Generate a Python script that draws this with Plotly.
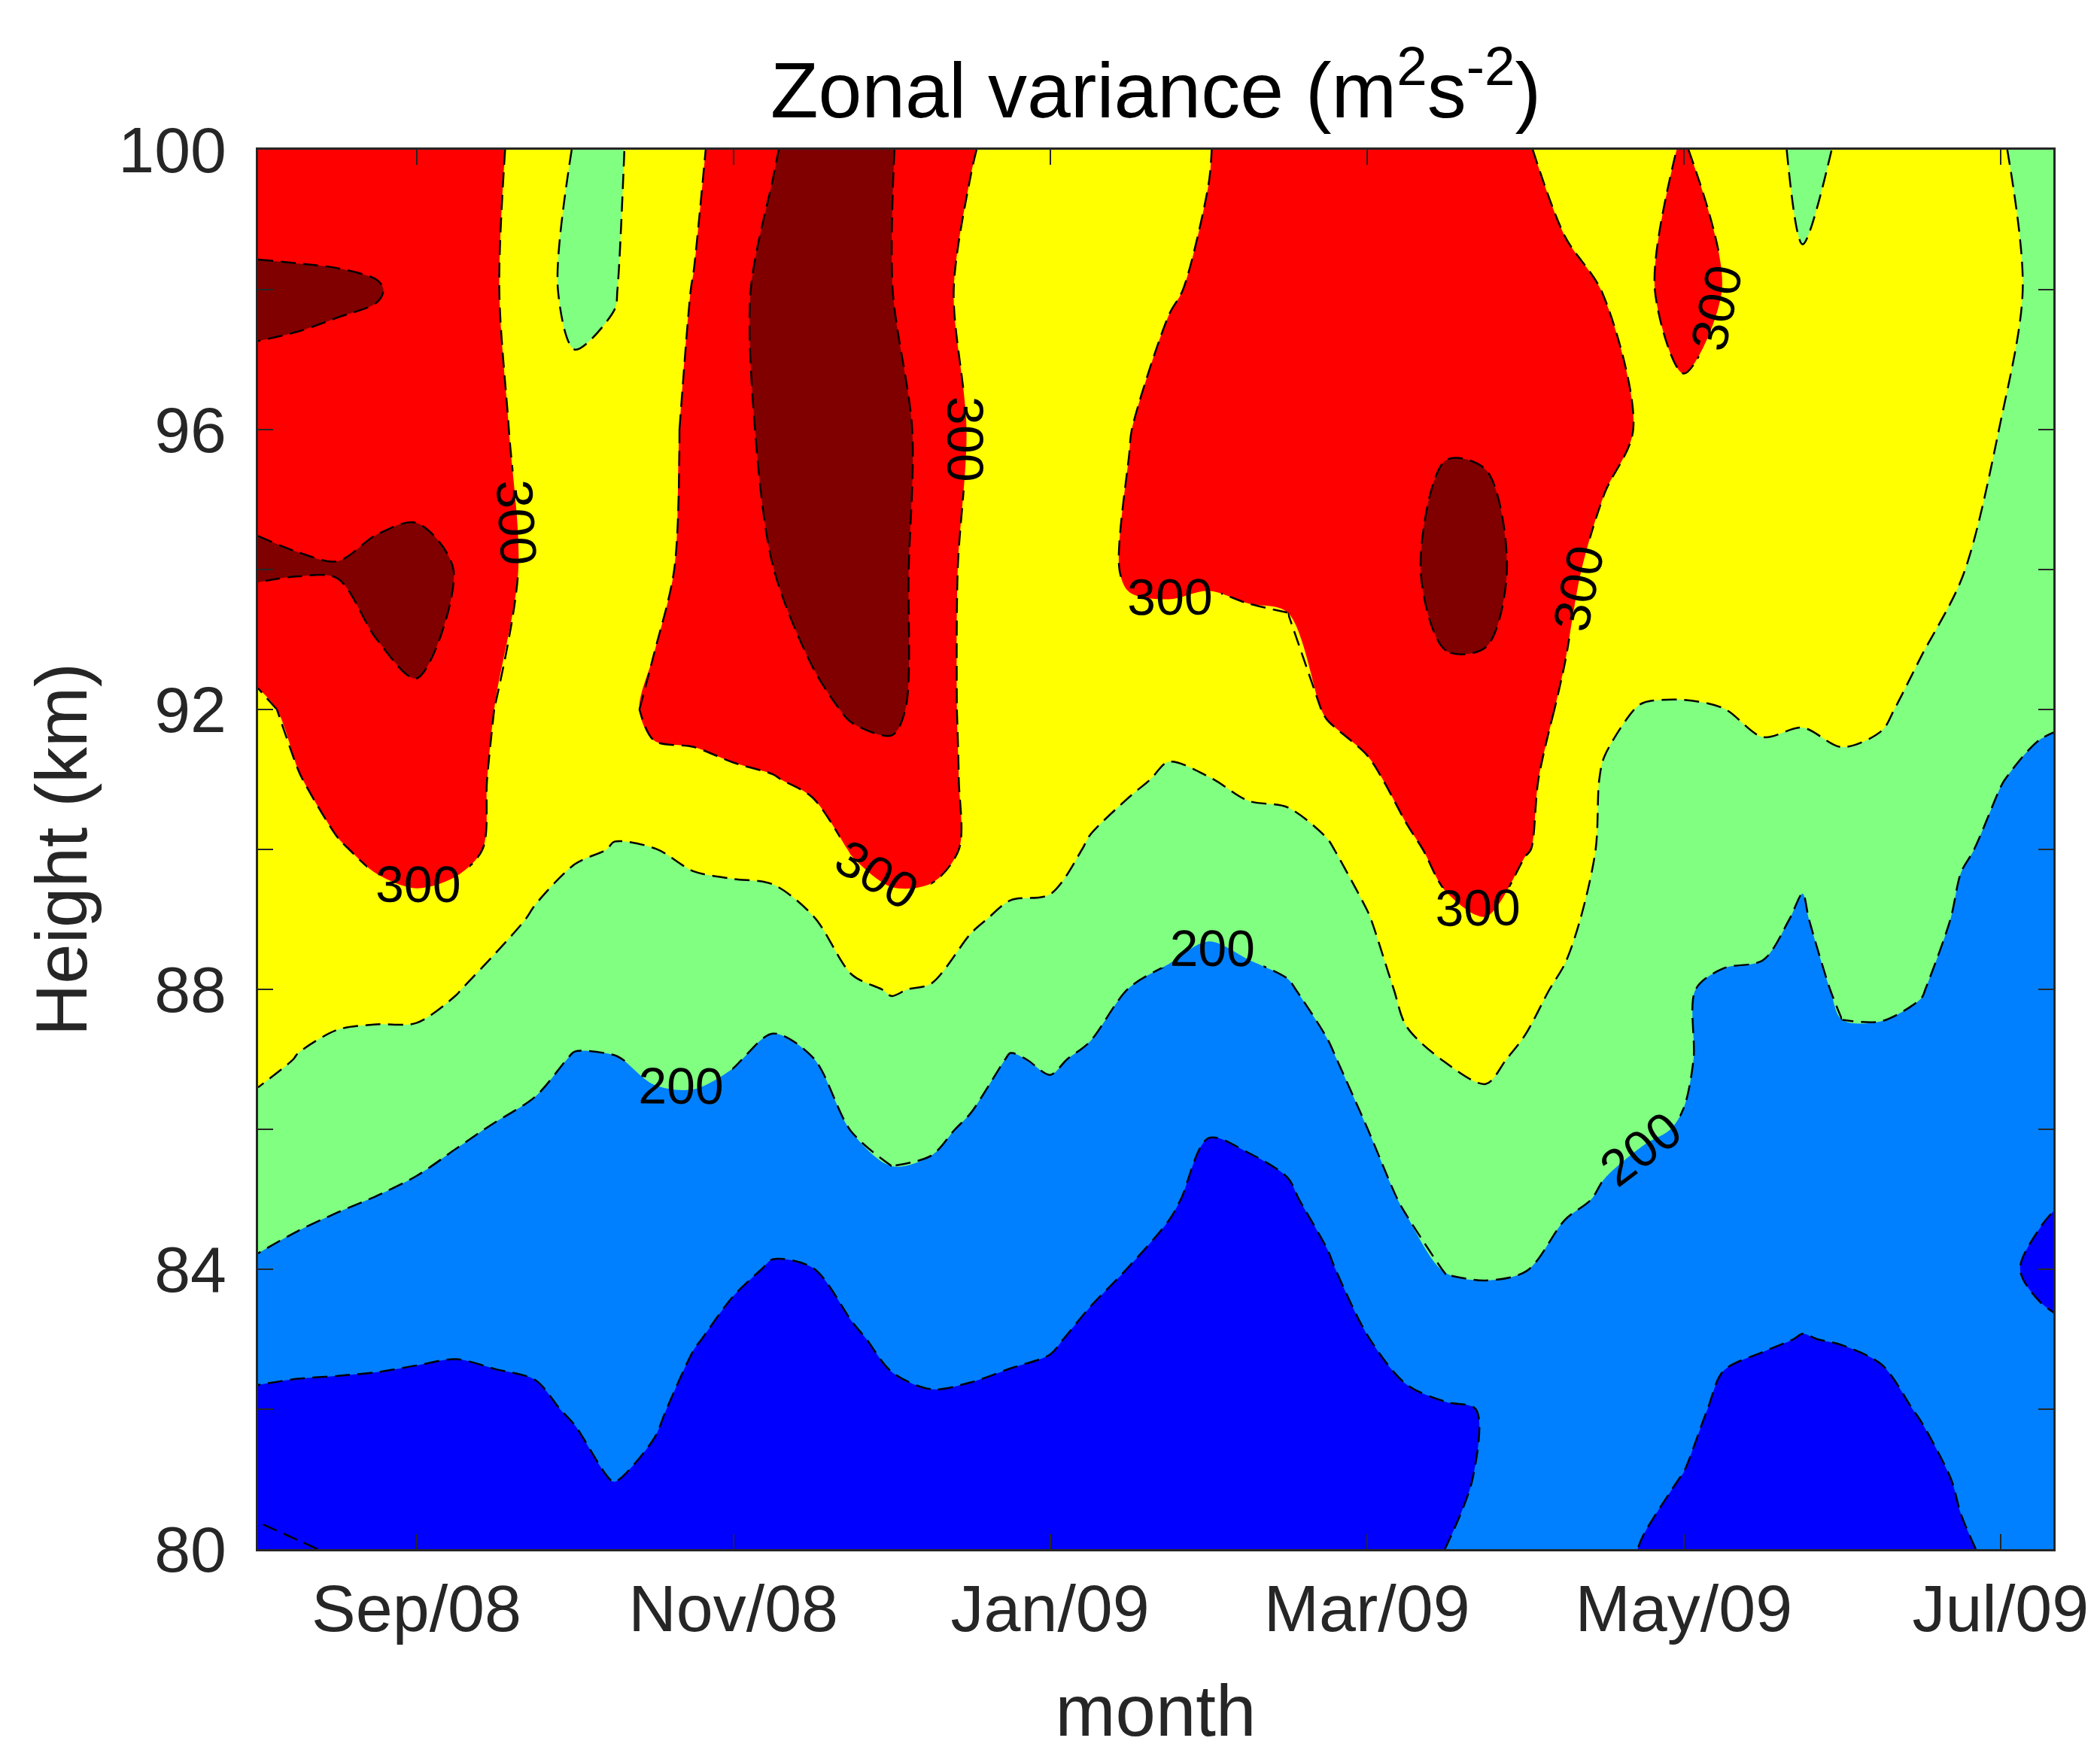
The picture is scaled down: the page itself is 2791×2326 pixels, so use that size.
import plotly.graph_objects as go

# x: month index (8 = Aug 2008 ... 19.33 = mid Jul 2009), y: height (km)
months = [8.0, 8.25, 8.5, 8.75, 9.0, 9.25, 9.5, 9.75, 10.0, 10.25, 10.5, 10.75,
          11.0, 11.25, 11.5, 11.75, 12.0, 12.25, 12.5, 12.75, 13.0, 13.25, 13.5, 13.75,
          14.0, 14.25, 14.5, 14.75, 15.0, 15.25, 15.5, 15.75, 16.0, 16.25, 16.5, 16.75,
          17.0, 17.25, 17.5, 17.75, 18.0, 18.25, 18.5, 18.75, 19.0, 19.25, 19.5]
heights = [80, 81, 82, 83, 84, 85, 86, 87, 88, 89, 90, 91, 92, 94, 96, 98, 100]

tick_months = [9, 11, 13, 15, 17, 19]
tick_labels = ['Sep/08', 'Nov/08', 'Jan/09', 'Mar/09', 'May/09', 'Jul/09']
height_ticks = [80, 84, 88, 92, 96, 100]
height_labels = ['80', '84', '88', '92', '96', '100']

# zonal variance (m^2 s^-2), one list per height, one value per month step
var_80km = [90, 97, 103, 110, 112, 113, 113, 115, 125, 136, 130, 112, 110, 110, 110, 112, 115, 118, 118, 118,
            118, 115, 112, 110, 108, 108, 108, 110, 112, 118, 151, 160, 165, 160, 160, 148, 136, 118, 118, 118,
            118, 118, 128, 147, 155, 165, 170]
var_81km = [116, 120, 122, 125, 126, 126, 127, 130, 140, 151, 143, 125, 121, 120, 120, 123, 128, 132, 132, 131,
            129, 125, 121.5, 118, 115, 115, 116, 119, 124, 131, 140, 155, 160, 160, 165, 157, 149, 131, 129, 128.5,
            128.7, 130, 141, 153, 159, 170, 172]
var_82km = [141, 140, 140, 141, 140, 140, 142, 145, 153, 158, 155, 139, 132, 129, 130, 135, 142, 146, 145, 143,
            141, 135, 131, 127, 122, 122, 123, 128, 137, 144, 147, 151, 156, 164, 170, 166, 159, 144, 141, 139,
            139.3, 143, 152, 158, 163, 175, 170]
var_83km = [167, 163, 161, 158, 156, 154, 156, 157, 162, 167, 164, 152, 142, 139, 140, 146, 157, 160, 158, 155,
            152.5, 145, 140.5, 135, 129, 130, 131, 137, 149, 161, 176, 179, 179, 175, 178, 175, 168, 155, 152, 149.4,
            151, 154, 160, 164, 167, 175, 158]
var_84km = [195, 188, 183, 179, 174, 170, 170, 169, 171, 175, 174, 165, 155, 148, 149.5, 162, 174, 175, 171, 166,
            165, 156, 149.5, 143, 136, 137, 138, 146, 165.5, 183, 202, 204, 201, 188, 189, 184, 178, 163, 160, 157,
            161, 164, 168, 169, 171.5, 128, 110]
var_85km = [217, 210, 204, 199, 193, 187, 184, 181, 180, 183, 183, 178, 170, 162, 166, 182, 191, 190, 183, 176,
            177, 169, 162.5, 153, 143, 144, 146, 160, 183, 205, 218, 221, 215.5, 205, 197.5, 193, 188, 172, 169, 165,
            172, 174, 176, 174.5, 176, 165, 140]
var_86km = [238, 229, 223, 219, 214, 205, 198, 193, 189, 192, 193, 192, 186, 177, 183, 201, 210, 206, 196, 187,
            189.5, 183, 175, 167, 151, 153, 159, 178, 199.5, 223, 234, 238, 230, 218, 206, 202, 199, 180, 178, 173,
            183, 184, 185, 180, 180, 175, 175]
var_87km = [258, 249, 242, 239, 237, 228, 217, 208, 198, 199, 204, 206, 202, 193, 199, 223, 231, 227, 213, 198,
            203, 196, 187.5, 181, 169, 172, 178, 195, 216, 242, 251, 256.5, 244, 230, 214, 209.5, 202.3, 193, 186.5, 181,
            193.5, 194, 193, 185, 184, 180, 180]
var_88km = [264, 261, 261, 261, 262, 252, 237, 227, 216, 216, 219, 222, 221, 212, 224, 244, 252, 247, 234, 220,
            223, 212, 199.5, 194, 187, 191, 197, 212, 231, 259, 272, 278, 261, 243, 222.5, 217.5, 204, 190.7, 195, 188.6,
            205, 205, 201, 191, 188, 185, 185]
var_89km = [271, 274, 279, 287, 292, 284, 262, 246, 235, 232, 234, 239, 239, 236, 248, 273, 288, 283, 254, 244,
            243, 230, 217, 210.5, 206, 212, 217, 229, 247, 276, 293.5, 299.5, 282, 262, 231, 225.4, 215, 221.7, 207, 196.5,
            218, 217, 211, 196, 192, 190, 190]
var_90km = [277, 286, 297, 307, 310, 310, 295, 265, 254, 249, 249.5, 255, 258, 264, 277, 303, 314, 316, 293, 266,
            262.5, 247, 235, 228, 227.5, 234, 238, 246, 269, 293, 310, 312.6, 302, 288, 239, 233.3, 226, 231, 224, 206,
            231, 229, 221, 202, 196, 194, 193]
var_91km = [284, 298, 314, 320, 323, 318, 295, 275, 263, 258, 275, 287, 293, 298, 308, 329, 333, 325, 289, 270,
            272, 262, 255, 245.6, 249, 257, 258, 272, 292, 312, 323, 325, 315, 269.5, 247, 241.3, 237, 240.4, 240, 230,
            244, 241.5, 232, 216, 200.5, 196, 196]
var_92km = [290, 311, 320, 340, 346, 325, 299, 282, 272, 266, 320, 315, 322, 325, 339, 355, 360, 331, 283, 275,
            278, 272, 274, 263, 272, 275, 273, 305, 315, 325, 337, 338, 325, 291, 256, 248, 248, 249.7, 256.5, 257,
            257, 253.7, 242, 228, 211, 203, 201]
var_94km = [356, 352, 352, 360, 364, 349, 312, 291, 276, 272, 270, 329, 335, 349.5, 375, 375, 365, 330, 285, 278,
            282, 285, 305, 310, 305, 308, 312, 325, 335, 340, 368, 365, 337, 318, 275, 288, 277, 275, 275, 275,
            275, 272, 263, 252, 233, 215, 212]
var_96km = [331, 336, 318, 320, 322, 328, 308, 284, 270, 262, 275, 314, 333, 364, 378, 375, 365, 336, 295.5, 278,
            282, 285, 299, 315, 320, 325, 330, 335, 335, 335, 345, 344, 340, 325, 321, 292, 291, 285, 280, 278,
            280, 280, 275, 270, 249, 228, 222]
var_98km = [361, 356, 358, 353, 335, 325, 303, 270, 235, 248, 275, 302, 335, 369, 375, 372, 350.5, 330, 277, 275,
            280, 280, 280, 296.7, 306, 325, 330, 335, 335, 335, 335, 330, 320, 308, 299, 295, 313.5, 299.5, 280, 258,
            275, 278, 278, 275, 271, 233.5, 230]
var_100km = [310, 324, 306, 310, 320, 322, 305, 284, 247, 240, 280, 287, 330, 345, 379, 375, 352, 323, 305, 270,
             275, 275, 278, 285, 298, 323, 328, 330, 332, 332, 332, 325, 303, 287, 280, 285, 303.3, 275.8, 275, 233.3,
             256, 275, 275, 275, 255, 225.6, 222]

variance = [var_80km, var_81km, var_82km, var_83km, var_84km, var_85km, var_86km, var_87km, var_88km,
            var_89km, var_90km, var_91km, var_92km, var_94km, var_96km, var_98km, var_100km]

# grid blocks (first col, last col, first row, last row) used to draw the labelled contours piecewise,
# so that each piece of line gets its own label
blocks_300 = [(0, 8, 0, 12), (8, 18, 0, 12), (26, 46, 0, 12),
              (0, 5, 12, 16), (5, 9, 12, 16), (9, 12, 12, 14), (9, 12, 14, 16),
              (17, 20, 12, 16), (20, 26, 12, 16), (26, 35, 12, 16), (35, 40, 12, 16)]
blocks_200 = [(0, 16, 0, 16), (16, 30, 0, 16), (30, 40, 0, 16), (40, 46, 0, 16)]

BLUE, LBLUE, GREEN, YELLOW, RED, DRED = '#0000ff', '#0080ff', '#80ff80', '#ffff00', '#ff0000', '#800000'
colorscale = [[0.0, BLUE], [0.25, BLUE], [0.25, LBLUE], [0.4167, LBLUE], [0.4167, GREEN], [0.5833, GREEN],
              [0.5833, YELLOW], [0.75, YELLOW], [0.75, RED], [0.9167, RED], [0.9167, DRED], [1.0, DRED]]

FONT = 'Liberation Sans, Arial, Helvetica, sans-serif'
AX = '#262626'
SMOOTH = 0.9
DASH = '20px,10px'
LINE = dict(color='black', width=2.5, dash=DASH, smoothing=SMOOTH)
LABELFONT = dict(family=FONT, size=68, color='black')

fig = go.Figure()
# filled bands
fig.add_trace(go.Contour(
    x=months, y=heights, z=variance,
    contours=dict(coloring='fill', start=100, end=350, size=50, showlines=False),
    colorscale=colorscale, showscale=False,
    line=dict(width=0, smoothing=SMOOTH), hoverinfo='skip'))
# unlabeled dashed lines (150, 250, 350)
fig.add_trace(go.Contour(
    x=months, y=heights, z=variance,
    contours=dict(coloring='none', start=150, end=350, size=100),
    showscale=False, line=LINE, hoverinfo='skip'))
# 100 level (corner)
fig.add_trace(go.Contour(
    x=months, y=heights, z=variance,
    contours=dict(coloring='none', start=100, end=100, size=50),
    showscale=False, line=LINE, hoverinfo='skip'))
# labelled dashed lines, drawn block by block
for level, blocks in ((300, blocks_300), (200, blocks_200)):
    for c0, c1, r0, r1 in blocks:
        fig.add_trace(go.Contour(
            x=months[c0:c1 + 1], y=heights[r0:r1 + 1],
            z=[row[c0:c1 + 1] for row in variance[r0:r1 + 1]],
            contours=dict(coloring='none', start=level, end=level, size=50, showlabels=True,
                          labelfont=LABELFONT),
            showscale=False, line=LINE, hoverinfo='skip'))

axis_common = dict(showgrid=False, zeroline=False, showline=True, linecolor=AX, linewidth=3,
                   mirror='ticks', ticks='inside', ticklen=20, tickwidth=2, tickcolor=AX)

fig.update_layout(
    width=2791, height=2326,
    paper_bgcolor='white', plot_bgcolor='white',
    margin=dict(l=335, r=70, t=191, b=275),
    title=dict(text='Zonal variance (m<sup>2</sup>s<sup>-2</sup>)', x=0.5, xref='paper', xanchor='center',
               y=1 - 112 / 2326, yanchor='middle', font=dict(family=FONT, size=104, color='black')),
    xaxis=dict(range=[8, 19.3333], tickmode='array', tickvals=tick_months, ticktext=tick_labels,
               tickfont=dict(family=FONT, size=88, color=AX),
               title=dict(text='month', font=dict(family=FONT, size=96, color=AX), standoff=55),
               **axis_common),
    yaxis=dict(range=[80, 100], tickmode='array', tickvals=height_ticks, ticktext=height_labels,
               tickfont=dict(family=FONT, size=86, color=AX), ticklabelstandoff=22,
               minor=dict(dtick=2, ticks='inside', ticklen=20, tickwidth=2, tickcolor=AX, showgrid=False),
               title=dict(text='Height (km)', font=dict(family=FONT, size=96, color=AX), standoff=10),
               **axis_common),
    showlegend=False,
)

fig.write_html('out.html')
